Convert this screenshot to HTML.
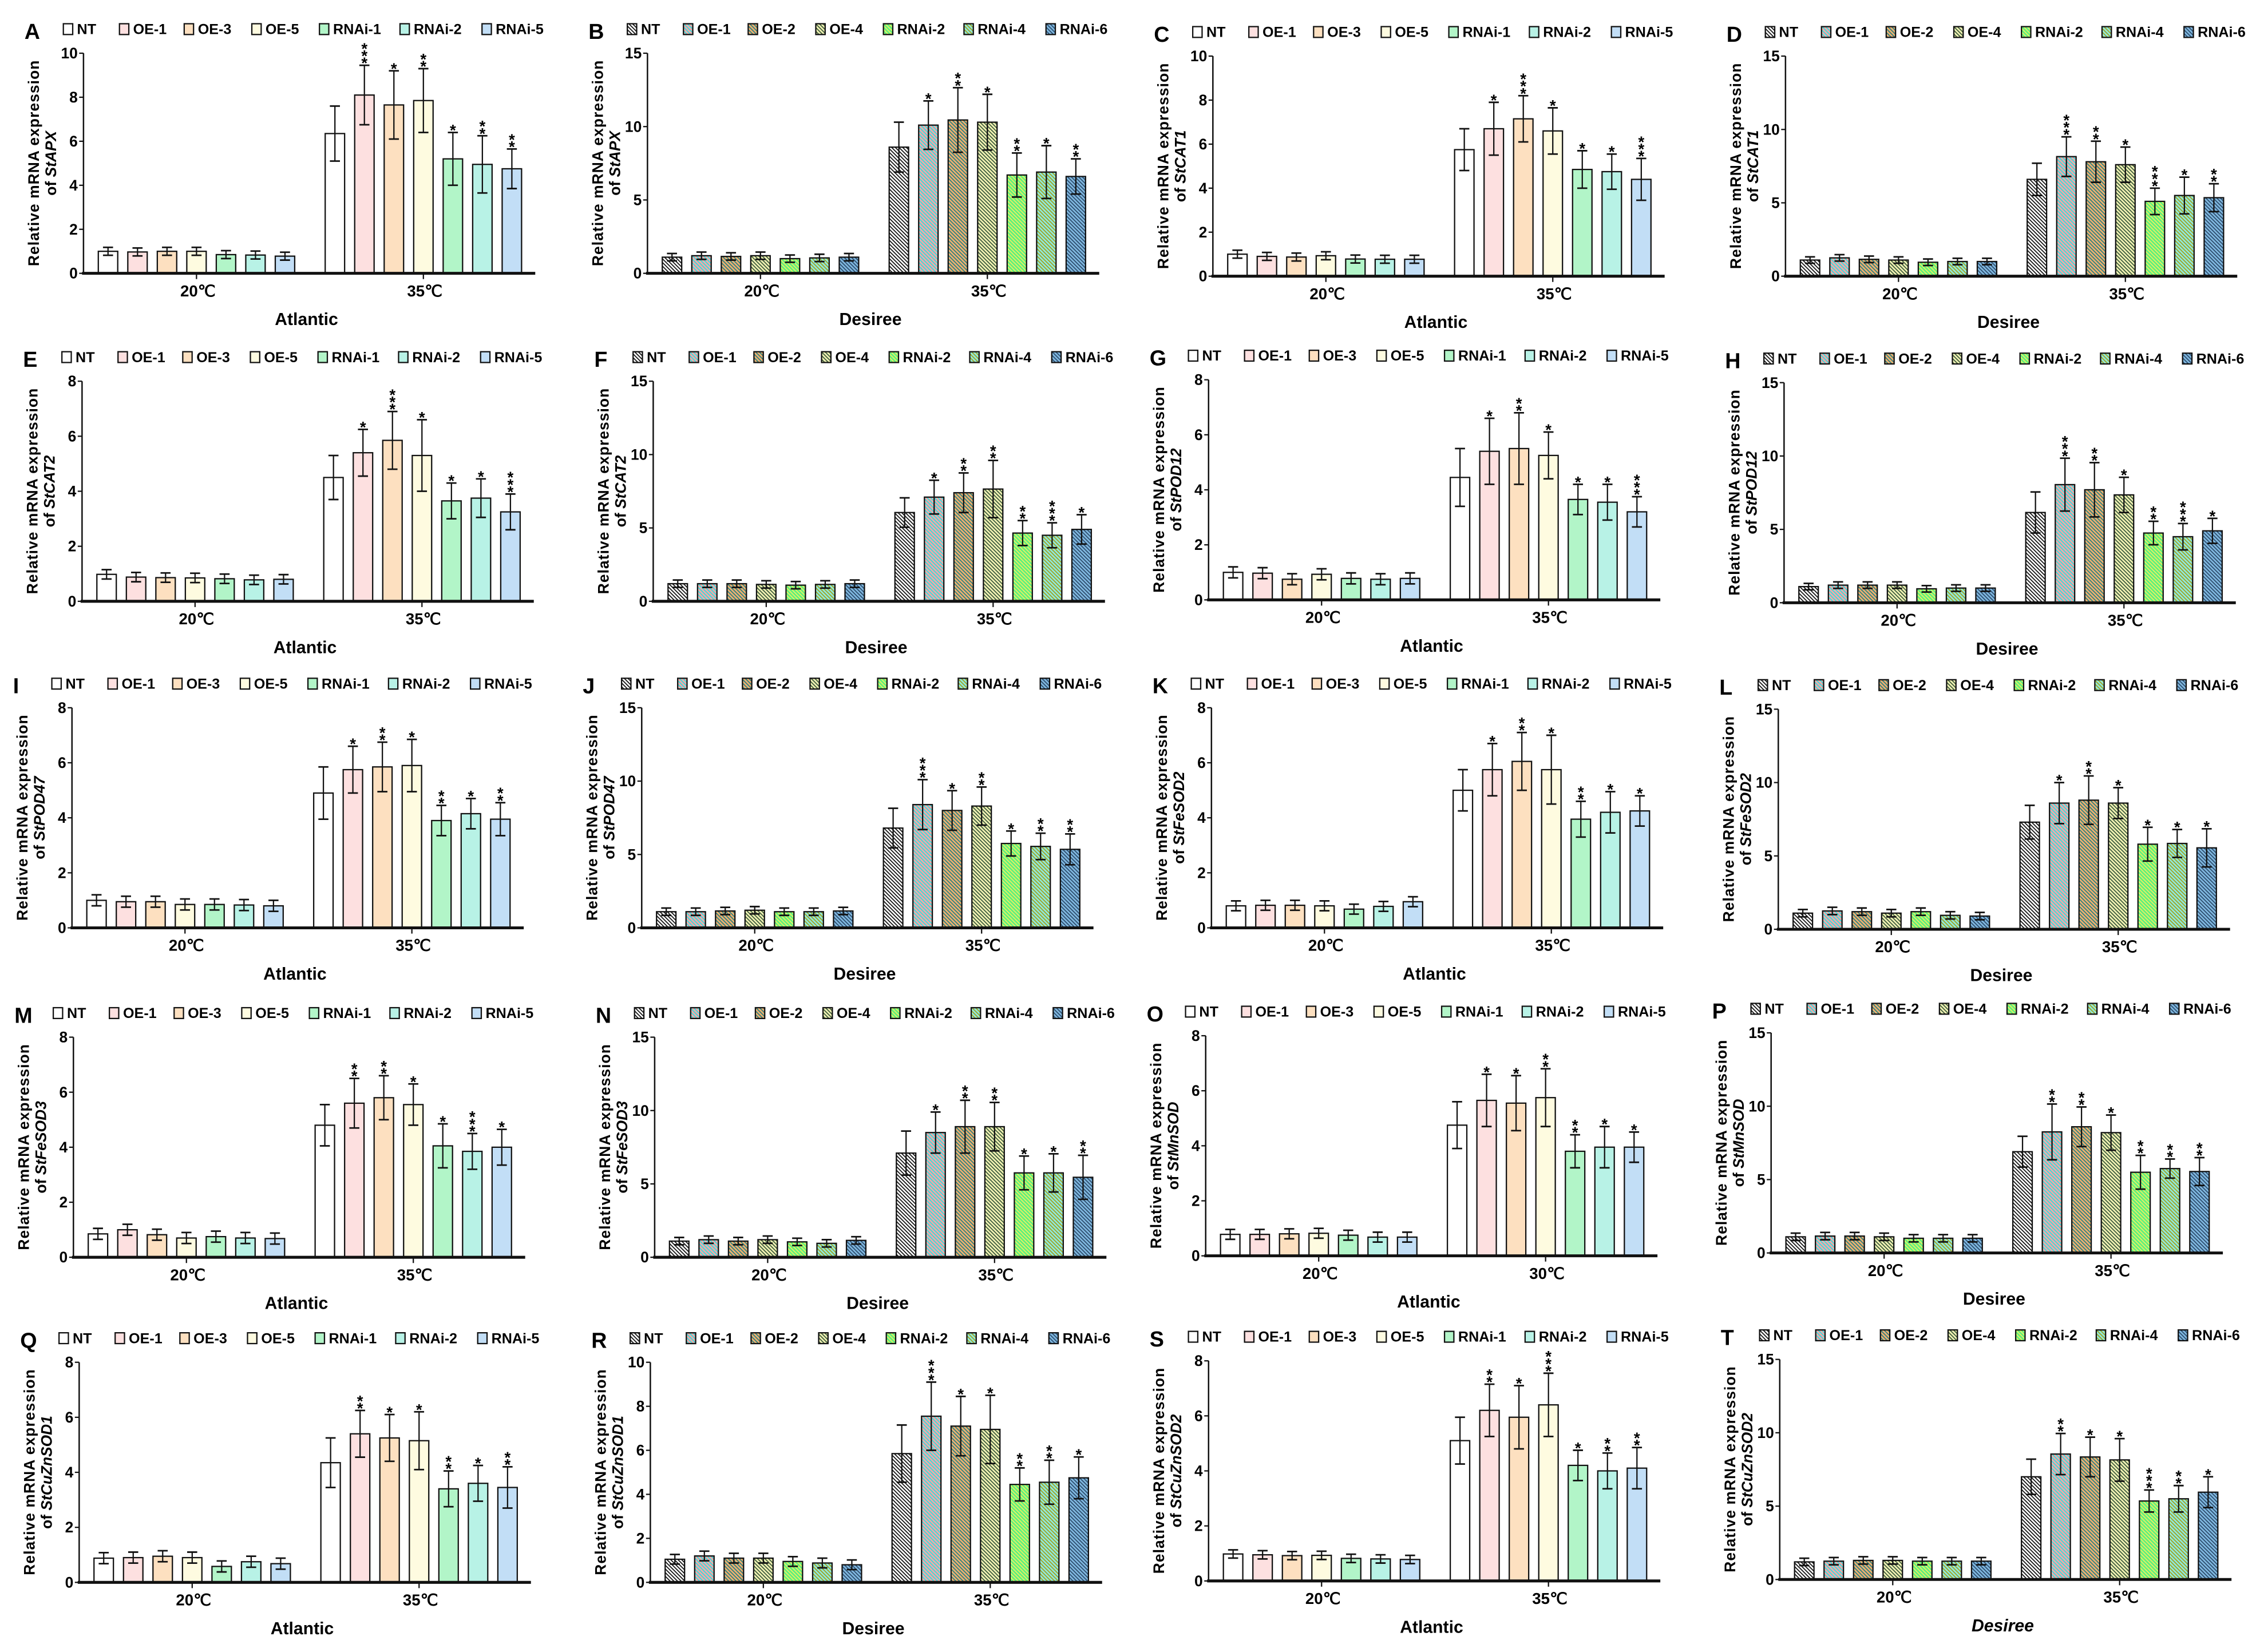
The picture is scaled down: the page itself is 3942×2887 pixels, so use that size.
<!DOCTYPE html>
<html><head><meta charset="utf-8"><style>
html,body{margin:0;padding:0;background:#fff;}
svg{display:block;font-family:"Liberation Sans Narrow","Liberation Sans",sans-serif;font-weight:bold;}
</style></head><body>
<svg id="fig" xmlns="http://www.w3.org/2000/svg" width="3942" height="2887" viewBox="0 0 1568 1148.4">
<defs>
<pattern id="h0" patternUnits="userSpaceOnUse" width="1.8" height="1.8" patternTransform="rotate(-45)"><rect width="1.8" height="1.8" fill="#ffffff"/><rect width="0.7" height="1.8" fill="#111"/></pattern>
<pattern id="h1" patternUnits="userSpaceOnUse" width="1.8" height="1.8" patternTransform="rotate(-45)"><rect width="1.8" height="1.8" fill="#f4a8a8"/><rect width="0.7" height="1.8" fill="#30e0e0"/></pattern>
<pattern id="h2" patternUnits="userSpaceOnUse" width="1.8" height="1.8" patternTransform="rotate(-45)"><rect width="1.8" height="1.8" fill="#f0b070"/><rect width="0.7" height="1.8" fill="#2a8080"/></pattern>
<pattern id="h3" patternUnits="userSpaceOnUse" width="1.8" height="1.8" patternTransform="rotate(-45)"><rect width="1.8" height="1.8" fill="#f2f2b4"/><rect width="0.7" height="1.8" fill="#3c5a3c"/></pattern>
<pattern id="h4" patternUnits="userSpaceOnUse" width="1.8" height="1.8" patternTransform="rotate(-45)"><rect width="1.8" height="1.8" fill="#5cf080"/><rect width="0.7" height="1.8" fill="#eef060"/></pattern>
<pattern id="h5" patternUnits="userSpaceOnUse" width="1.8" height="1.8" patternTransform="rotate(-45)"><rect width="1.8" height="1.8" fill="#90eadc"/><rect width="0.7" height="1.8" fill="#a0a020"/></pattern>
<pattern id="h6" patternUnits="userSpaceOnUse" width="1.8" height="1.8" patternTransform="rotate(-45)"><rect width="1.8" height="1.8" fill="#80b8e0"/><rect width="0.7" height="1.8" fill="#2c4c6c"/></pattern>
</defs>
</svg>
<script>
const letters=["A","B","C","D","E","F","G","H","I","J","K","L","M","N","O","P","Q","R","S","T"];
const genes=["StAPX","StAPX","StCAT1","StCAT1","StCAT2","StCAT2","StPOD12","StPOD12","StPOD47","StPOD47","StFeSOD2","StFeSOD2","StFeSOD3","StFeSOD3","StMnSOD","StMnSOD","StCuZnSOD1","StCuZnSOD1","StCuZnSOD2","StCuZnSOD2"];
const yMax=[10,15,10,15,8,15,8,15,8,15,8,15,8,15,8,15,8,10,8,15];
const yStep=[2,5,2,5,2,5,2,5,2,5,2,5,2,5,2,5,2,2,2,5];
const tempLabels=[["20℃","35℃"],["20℃","35℃"],["20℃","35℃"],["20℃","35℃"],["20℃","35℃"],["20℃","35℃"],["20℃","35℃"],["20℃","35℃"],["20℃","35℃"],["20℃","35℃"],["20℃","35℃"],["20℃","35℃"],["20℃","35℃"],["20℃","35℃"],["20℃","30℃"],["20℃","35℃"],["20℃","35℃"],["20℃","35℃"],["20℃","35℃"],["20℃","35℃"]];
const atlLines=["NT","OE-1","OE-3","OE-5","RNAi-1","RNAi-2","RNAi-5"];
const desLines=["NT","OE-1","OE-2","OE-4","RNAi-2","RNAi-4","RNAi-6"];
const low=[
[1,0.97,1,1,0.85,0.83,0.78],[1.1,1.2,1.15,1.2,1.0,1.05,1.1],
[1,0.9,0.87,0.93,0.78,0.77,0.77],[1.1,1.25,1.15,1.1,0.95,1.0,1.0],
[0.98,0.88,0.86,0.85,0.82,0.78,0.8],[1.2,1.2,1.2,1.15,1.1,1.15,1.2],
[1,0.97,0.75,0.93,0.78,0.75,0.78],[1.1,1.2,1.2,1.2,0.95,1.0,1.0],
[1.0,0.95,0.95,0.85,0.85,0.83,0.8],[1.1,1.1,1.15,1.2,1.1,1.1,1.15],
[0.8,0.82,0.82,0.8,0.68,0.78,0.95],[1.1,1.25,1.2,1.1,1.2,0.95,0.9],
[0.85,1.0,0.82,0.7,0.75,0.7,0.68],[1.1,1.2,1.1,1.2,1.05,0.95,1.15],
[0.78,0.78,0.8,0.82,0.75,0.68,0.68],[1.1,1.15,1.15,1.1,1.0,1.0,1.0],
[0.88,0.9,0.95,0.9,0.58,0.75,0.68],[1.05,1.2,1.1,1.1,0.95,0.88,0.8],
[0.98,0.95,0.92,0.93,0.82,0.8,0.78],[1.2,1.25,1.3,1.3,1.25,1.25,1.25]];
const lowErr=[0.18,0.25,0.18,0.22,0.17,0.25,0.2,0.22,0.2,0.25,0.18,0.25,0.2,0.25,0.18,0.25,0.2,0.22,0.15,0.25];
const high=[
[6.35,8.1,7.65,7.85,5.2,4.95,4.75],[8.6,10.1,10.45,10.3,6.7,6.9,6.6],
[5.75,6.7,7.15,6.6,4.85,4.75,4.4],[6.6,8.15,7.8,7.6,5.1,5.5,5.35],
[4.5,5.4,5.85,5.3,3.65,3.75,3.25],[6.05,7.1,7.4,7.65,4.65,4.5,4.9],
[4.45,5.4,5.5,5.25,3.65,3.55,3.2],[6.15,8.05,7.7,7.35,4.75,4.5,4.9],
[4.9,5.75,5.85,5.9,3.9,4.15,3.95],[6.8,8.4,8.0,8.3,5.75,5.55,5.35],
[5.0,5.75,6.05,5.75,3.95,4.2,4.25],[7.3,8.6,8.8,8.6,5.8,5.85,5.55],
[4.8,5.6,5.8,5.55,4.05,3.85,4.0],[7.1,8.5,8.9,8.9,5.75,5.75,5.45],
[4.75,5.65,5.55,5.75,3.8,3.95,3.95],[6.9,8.25,8.6,8.2,5.5,5.75,5.55],
[4.35,5.4,5.25,5.15,3.4,3.6,3.45],[5.85,7.55,7.1,6.95,4.45,4.55,4.75],
[5.1,6.2,5.95,6.4,4.2,4.0,4.1],[7.0,8.55,8.35,8.15,5.35,5.5,5.95]];
const highErr=[
[1.25,1.35,1.55,1.45,1.2,1.3,0.9],[1.7,1.65,2.2,1.9,1.5,1.8,1.2],
[0.95,1.2,1.05,1.05,0.85,0.8,0.95],[1.1,1.35,1.4,1.2,0.9,1.25,0.95],
[0.8,0.85,1.05,1.3,0.65,0.7,0.65],[1.0,1.15,1.35,1.95,0.85,0.85,1.0],
[1.05,1.2,1.3,0.85,0.55,0.65,0.55],[1.4,1.8,1.85,1.2,0.8,0.9,0.85],
[0.95,0.85,0.9,0.95,0.55,0.55,0.6],[1.35,1.7,1.35,1.3,0.85,0.9,1.05],
[0.75,0.95,1.05,1.25,0.65,0.75,0.55],[1.15,1.4,1.65,1.05,1.15,0.95,1.3],
[0.75,0.9,0.8,0.75,0.8,0.65,0.65],[1.5,1.4,1.8,1.65,1.15,1.3,1.5],
[0.85,0.95,1.0,1.05,0.6,0.75,0.55],[1.05,1.9,1.35,1.2,1.15,0.65,0.95],
[0.9,0.85,0.85,1.05,0.65,0.65,0.75],[1.3,1.55,1.35,1.55,0.75,1.0,0.95],
[0.85,0.95,1.15,1.15,0.55,0.65,0.75],[1.2,1.4,1.35,1.45,0.75,0.9,1.05]];
const stars=[
[0,3,1,2,1,2,2],[0,1,2,1,2,1,2],[0,1,3,1,1,1,3],[0,3,2,1,3,1,2],
[0,1,3,1,1,1,3],[0,1,2,2,2,3,1],[0,1,2,1,1,1,3],[0,3,2,1,2,3,1],
[0,1,2,1,2,1,2],[0,3,1,2,1,2,2],[0,1,2,1,2,1,1],[0,1,2,1,1,1,1],
[0,2,2,1,1,3,1],[0,1,2,2,1,1,2],[0,1,1,2,2,1,1],[0,2,2,1,2,2,2],
[0,2,1,1,2,1,2],[0,3,1,1,2,2,1],[0,2,1,3,1,2,2],[0,2,1,1,3,2,1]];

const axisX=[58,450,843,1241,57,454,840,1240,50,446,842,1236,51,455,838,1231,55,452,840,1237];
const zeroY=[190,190,192,192,418,418,417,419,645,645,645,646,874,874,873,871,1100,1100,1099,1098];
const atlFill=["#ffffff","#fde0e0","#fde0c0","#fefbe0","#b2f5c8","#b8f2e6","#c2def6"];
const desFill=["url(#h0)","url(#h1)","url(#h2)","url(#h3)","url(#h4)","url(#h5)","url(#h6)"];
const legOff=[-14,25,70,117,164,220,277];
const NS="http://www.w3.org/2000/svg";
const svg=document.getElementById('fig');
function mk(tag,attrs,parent,txt){const e=document.createElementNS(NS,tag);for(const k in attrs)e.setAttribute(k,attrs[k]);if(txt!==undefined)e.textContent=txt;(parent||svg).appendChild(e);return e;}

const W=314,H=153,bw=13.5,pitch=20.5,g1=10.3,g2=168;
for(let p=0;p<20;p++){
  const ax=axisX[p],zy=zeroY[p],ty=zy-H,isDes=p%2===1;
  const fills=isDes?desFill:atlFill,lines=isDes?desLines:atlLines;
  const sy=v=>zy-v/yMax[p]*H;
  const g=mk('g',{});
  
  
  const lt=mk('text',{x:ax-41,y:ty-10,'font-size':15,'font-family':'Liberation Sans,sans-serif'},g,letters[p]);
  
  
  for(let i=0;i<7;i++){
    const lg=mk('g',{},g);
    
    
    const lx=ax+legOff[i];
    mk('rect',{x:lx,y:ty-20.5,width:6.5,height:7.5,fill:fills[i],stroke:'#111','stroke-width':0.9},lg);
    mk('text',{x:lx+9.5,y:ty-13.3,'font-size':10},lg,lines[i]);
  }
  const cy=ty+H/2;
  const yt=mk('text',{x:0,y:0,'font-size':10.5,'text-anchor':'middle','font-family':'Liberation Sans,sans-serif',transform:`translate(${ax-31},${cy}) rotate(-90)`,textLength:143,lengthAdjust:'spacing'},g,'Relative mRNA expression');
  
  
  const yt2=mk('text',{x:0,y:0,'font-size':10.5,'text-anchor':'middle','font-family':'Liberation Sans,sans-serif',transform:`translate(${ax-19},${cy}) rotate(-90)`},g);
  
  
  mk('tspan',{},yt2,'of ');
  mk('tspan',{'font-style':'italic'},yt2,genes[p]);
  for(let v=0;v<=yMax[p]+1e-9;v+=yStep[p]){
    const y=sy(v);
    mk('line',{x1:ax-3,x2:ax,y1:y,y2:y,stroke:'#111','stroke-width':0.9},g);
    const tl=mk('text',{x:ax-4,y:y+3.6,'font-size':10.5,'text-anchor':'end'},g,String(v));
    
    
  }
  const groups=[{off:g1,vals:low[p],errs:null},{off:g2,vals:high[p],errs:highErr[p]}];
  groups.forEach((gr,gi)=>{
    for(let i=0;i<7;i++){
      const v=gr.vals[i],e=gr.errs?gr.errs[i]:lowErr[p];
      const x=ax+gr.off+i*pitch,cx=x+bw/2;
      const b=mk('rect',{x:x,y:sy(v),width:bw,height:zy-sy(v),fill:fills[i],stroke:'#111','stroke-width':0.9},g);
      
      
      mk('line',{x1:cx,x2:cx,y1:sy(v+e),y2:sy(Math.max(0,v-e)),stroke:'#111','stroke-width':0.9},g);
      mk('line',{x1:cx-3.5,x2:cx+3.5,y1:sy(v+e),y2:sy(v+e),stroke:'#111','stroke-width':1.1},g);
      mk('line',{x1:cx-3.5,x2:cx+3.5,y1:sy(Math.max(0,v-e)),y2:sy(Math.max(0,v-e)),stroke:'#111','stroke-width':1.1},g);
      if(gi===1){
        const n=stars[p][i];
        for(let k=0;k<n;k++){
          const st=mk('text',{x:cx,y:sy(v+e)+2.2-k*5,'font-size':11,'text-anchor':'middle','font-family':'Liberation Sans,sans-serif'},g,'*');
          
          
        }
      }
    }
    const gc=ax+gr.off+3*pitch+bw/2;
    mk('line',{x1:gc,x2:gc,y1:zy,y2:zy+4,stroke:'#111','stroke-width':0.9},g);
    const xl=mk('text',{x:gc+1,y:zy+16,'font-size':11,'text-anchor':'middle'},g,tempLabels[p][gi]);
    
    
  });
  mk('line',{x1:ax,x2:ax,y1:ty,y2:zy,stroke:'#111','stroke-width':1},g);
  mk('line',{x1:ax-1,x2:ax+W,y1:zy,y2:zy,stroke:'#111','stroke-width':2},g);
  const xt=mk('text',{x:ax+155,y:zy+36,'font-size':12,'text-anchor':'middle','font-style':p===19?'italic':'normal'},g,isDes?'Desiree':'Atlantic');
  
  
}
</script>
</body></html>
